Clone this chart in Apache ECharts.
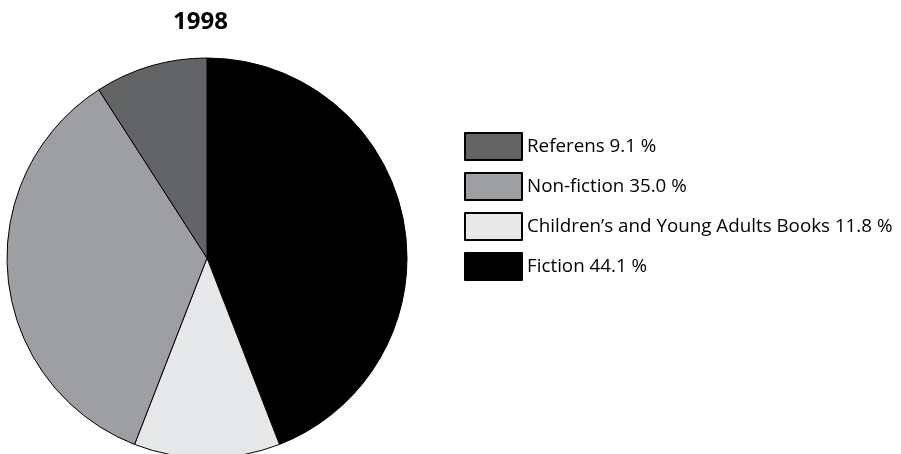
<!DOCTYPE html>
<html>
<head>
<meta charset="utf-8">
<script src="https://cdn.jsdelivr.net/npm/echarts@6/dist/echarts.min.js"></script>
<style>html,body{margin:0;padding:0;background:#fff;}#c{width:901px;height:454px;}</style>
</head>
<body>
<div id="c"></div>
<script>
const titleText = '1998';
const categories = ['Fiction', 'Children\u2019s and Young Adults Books', 'Non-fiction', 'Referens'];
const values = [44.1, 11.8, 35.0, 9.1];
const colors = ['#000000', '#e6e7e8', '#9d9fa2', '#636466'];
const legendOrder = ['Referens', 'Non-fiction', 'Children\u2019s and Young Adults Books', 'Fiction'];

const valueByName = {};
categories.forEach((c, i) => valueByName[c] = values[i]);

const chart = echarts.init(document.getElementById('c'), null, {renderer: 'canvas'});
chart.setOption({
  animation: false,
  backgroundColor: '#ffffff',
  title: {
    text: titleText,
    left: 168, top: 5,
    textStyle: {fontFamily: 'Open Sans', fontWeight: 'bold', fontSize: 24, color: '#000'}
  },
  legend: {
    orient: 'vertical',
    left: 459, top: 127,
    icon: 'rect',
    itemWidth: 57, itemHeight: 27, itemGap: 11,
    data: legendOrder,
    selectedMode: false,
    textStyle: {fontFamily: 'Open Sans', fontSize: 18.8, lineHeight: 27, color: '#000'},
    formatter: function (name) { return name + ' ' + valueByName[name].toFixed(1) + ' %'; }
  },
  series: [{
    type: 'pie',
    center: [207, 258],
    radius: 200,
    startAngle: 90,
    clockwise: true,
    label: {show: false},
    labelLine: {show: false},
    emphasis: {disabled: true},
    itemStyle: {borderColor: '#000', borderWidth: 1},
    data: categories.map((c, i) => ({name: c, value: values[i], itemStyle: {color: colors[i]}}))
  }]
});
</script>
</body>
</html>
